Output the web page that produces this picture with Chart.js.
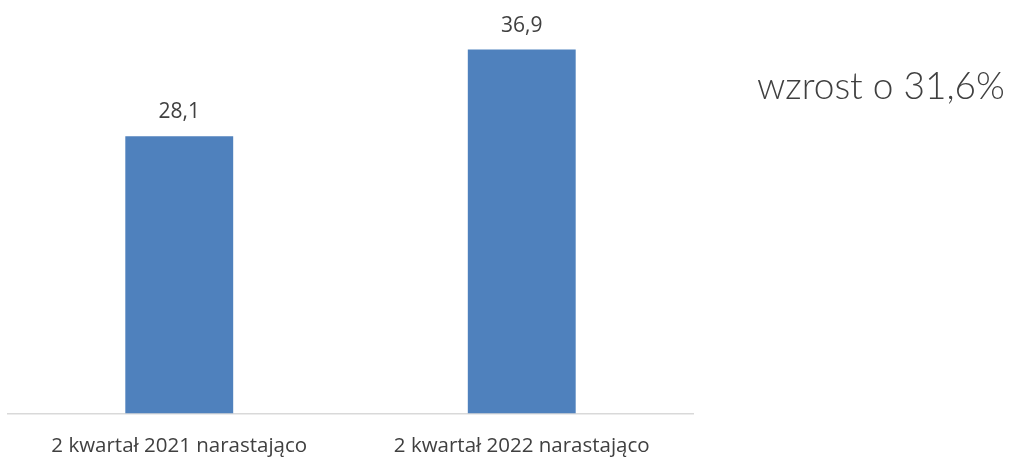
<!DOCTYPE html>
<html>
<head>
<meta charset="utf-8">
<script src="https://cdn.jsdelivr.net/npm/chart.js@4"></script>
<style>
  html, body { margin: 0; padding: 0; background: #fff; }
  #wrap { position: relative; width: 1022px; height: 457px; overflow: hidden; }
  #note {
    position: absolute; left: 757px; top: 62px;
    font-family: "Lato", sans-serif; font-weight: 300; font-size: 37px;
    color: #404040; white-space: nowrap;
  }
</style>
</head>
<body>
<div id="wrap">
  <canvas id="barChart" width="1022" height="472"></canvas>
  <div id="note">wzrost o 31,6%</div>
</div>
<script>
const labels = ['2 kwartał 2021 narastająco', '2 kwartał 2022 narastająco'];
const values = [28.1, 36.9];

// value labels above the bars
const valueLabels = {
  id: 'valueLabels',
  afterDatasetsDraw(chart) {
    const ctx = chart.ctx;
    const meta = chart.getDatasetMeta(0);
    ctx.save();
    ctx.font = '21px "Open Sans", sans-serif';
    ctx.fillStyle = '#404040';
    ctx.textAlign = 'center';
    ctx.textBaseline = 'middle';
    meta.data.forEach((bar, i) => {
      ctx.fillText(String(values[i]).replace('.', ','), bar.x, bar.y - 24);
    });
    ctx.restore();
  }
};

const config = {
  type: 'bar',
  data: {
    labels: labels,
    datasets: [{
      data: values,
      backgroundColor: '#4F81BD',
      barPercentage: 0.315,
      categoryPercentage: 1
    }]
  },
  options: {
    responsive: false,
    animation: false,
    layout: { padding: { left: 8, right: 329, top: 19, bottom: 2 } },
    plugins: { legend: { display: false }, tooltip: { enabled: false } },
    scales: {
      x: {
        grid: { display: false },
        border: { color: '#d9d9d9', width: 1.5 },
        ticks: { color: '#404040', font: { family: '"Open Sans", sans-serif', size: 20.5 }, padding: 12 }
      },
      y: { display: false, min: 0, max: 40 }
    }
  },
  plugins: [valueLabels]
};

new Chart(document.getElementById('barChart'), config);
</script>
</body>
</html>
